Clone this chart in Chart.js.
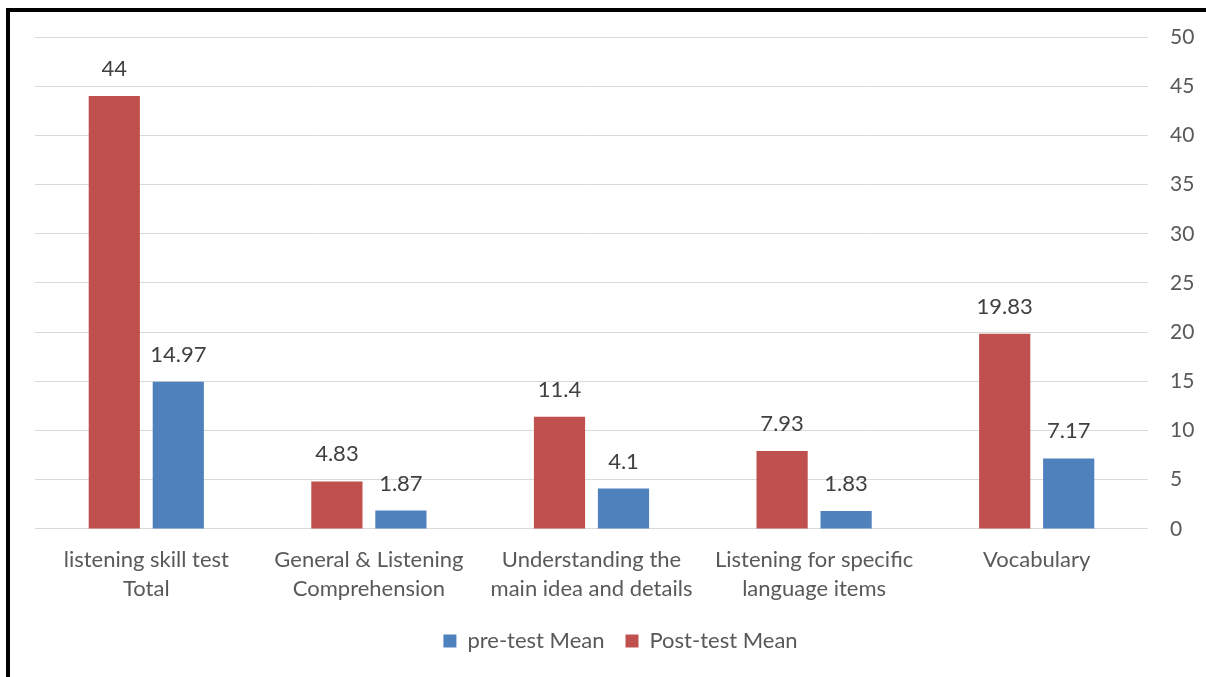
<!DOCTYPE html>
<html>
<head>
<meta charset="utf-8">
<script src="https://cdn.jsdelivr.net/npm/chart.js@4"></script>
<style>
  body { margin: 0; background: #fff; }
  #wrap { position: relative; width: 1206px; height: 677px; }
  #frame { position: absolute; left: 6px; top: 8px; right: -10px; bottom: -10px;
           border-left: 4px solid #000; border-top: 4px solid #000; pointer-events: none; }
</style>
</head>
<body>
<div id="wrap">
  <canvas id="chart" width="1206" height="677"></canvas>
  <div id="frame"></div>
</div>
<script>
const categories = [
    ['listening skill test', 'Total'],
    ['General & Listening', 'Comprehension'],
    ['Understanding the', 'main idea and details'],
    ['Listening for specific', 'language items'],
    'Vocabulary'
];
const postMean = [44, 4.83, 11.4, 7.93, 19.83];
const preMean = [14.97, 1.87, 4.1, 1.83, 7.17];

const FONT = 'Lato, "Open Sans", sans-serif';

// writes the value above each bar
const valueLabels = {
    id: 'valueLabels',
    afterDatasetsDraw(chart) {
        const ctx = chart.ctx;
        ctx.save();
        ctx.font = '22px ' + FONT;
        ctx.fillStyle = '#404040';
        ctx.textAlign = 'center';
        ctx.textBaseline = 'middle';
        chart.data.datasets.forEach((ds, i) => {
            chart.getDatasetMeta(i).data.forEach((bar, j) => {
                ctx.fillText(String(ds.data[j]), bar.x, bar.y - 27);
            });
        });
        ctx.restore();
    }
};

new Chart(document.querySelector('#chart').getContext('2d'), {
    type: 'bar',
    data: {
        labels: categories,
        datasets: [
            {
                label: 'Post-test Mean',
                data: postMean,
                backgroundColor: '#C0504D',
                categoryPercentage: 0.575,
                barPercentage: 0.8
            },
            {
                label: 'pre-test Mean',
                data: preMean,
                backgroundColor: '#4F81BD',
                categoryPercentage: 0.575,
                barPercentage: 0.8
            }
        ]
    },
    options: {
        responsive: false,
        animation: false,
        layout: { padding: { left: 35, right: 0, top: 37, bottom: 15 } },
        plugins: {
            legend: {
                position: 'bottom',
                reverse: true,
                labels: {
                    boxWidth: 13,
                    boxHeight: 13,
                    padding: 21,
                    color: '#595959',
                    font: { family: FONT, size: 22 }
                }
            },
            tooltip: { enabled: false }
        },
        scales: {
            x: {
                afterFit(scale) { scale.height -= 2; },
                grid: { display: false },
                border: { display: false },
                ticks: {
                    color: '#595959',
                    font: { family: FONT, size: 22, lineHeight: 1.32 },
                    maxRotation: 0,
                    padding: 8
                }
            },
            y: {
                position: 'right',
                min: 0,
                max: 50,
                afterFit(scale) { scale.width = 58; },
                grid: { color: '#D9D9D9', lineWidth: 1, drawTicks: false },
                border: { display: false },
                ticks: {
                    stepSize: 5,
                    color: '#595959',
                    font: { family: FONT, size: 21 },
                    padding: 22
                }
            }
        }
    },
    plugins: [valueLabels]
});
</script>
</body>
</html>
